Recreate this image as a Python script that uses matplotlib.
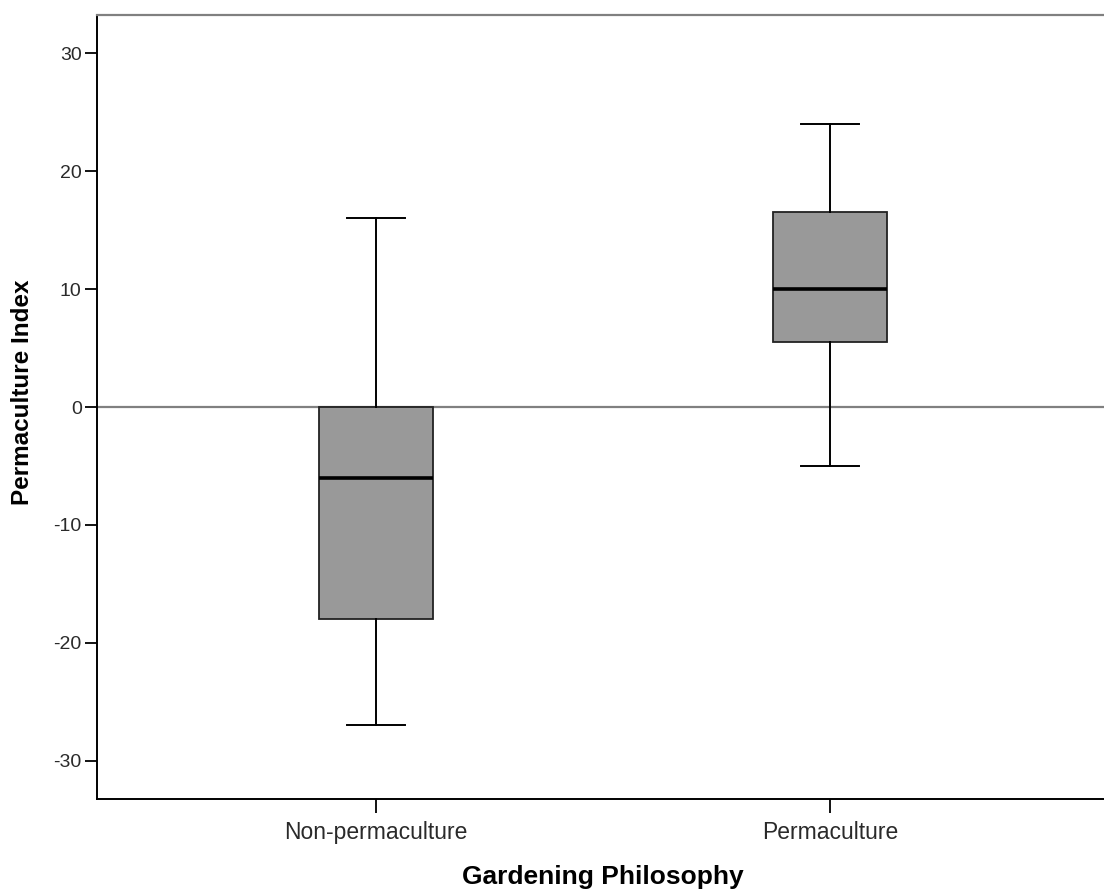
import matplotlib
matplotlib.use("Agg")
import matplotlib.pyplot as plt

categories = ["Non-permaculture", "Permaculture"]
whislo = [-27, -5]
q1 = [-18, 5.5]
med = [-6, 10]
q3 = [0, 16.5]
whishi = [16, 24]
y_ticks = [-30, -20, -10, 0, 10, 20, 30]

plt.rcParams['font.family'] = ['Liberation Sans', 'DejaVu Sans']

fig = plt.figure(figsize=(11.04, 8.91), dpi=100)
ax = fig.add_axes([97/1104, 92/891, 1012/1104, 784/891])

ax.axhline(0, color='#808080', lw=1.6, zorder=1)

stats = []
for i, c in enumerate(categories):
    stats.append(dict(label=c, whislo=whislo[i], q1=q1[i], med=med[i],
                      q3=q3[i], whishi=whishi[i], fliers=[]))

ax.bxp(stats, positions=range(len(categories)), widths=0.251,
       capwidths=0.128, patch_artist=True, showfliers=False,
       boxprops=dict(facecolor='#999999', edgecolor='#222222', linewidth=1.3),
       medianprops=dict(color='black', linewidth=2.6, solid_capstyle='butt'),
       whiskerprops=dict(color='black', linewidth=1.4),
       capprops=dict(color='black', linewidth=1.4),
       zorder=2)

ax.set_xlim(-0.6145, 1.6145)
ax.set_ylim(-33.25, 33.25)
ax.set_yticks(y_ticks)
ax.set_yticklabels([str(v) for v in y_ticks])
ax.set_xticks(range(len(categories)))
ax.set_xticklabels(categories)

ax.tick_params(axis='y', length=9, width=1.3, pad=2, labelsize=14, labelcolor='#2a2a2a')
ax.tick_params(axis='x', length=10, width=1.3, pad=6, labelsize=16.5, labelcolor='#2a2a2a')

for s in ['left', 'bottom']:
    ax.spines[s].set_color('black')
    ax.spines[s].set_linewidth(1.4)
ax.spines['top'].set_color('#808080')
ax.spines['top'].set_linewidth(1.6)
ax.spines['right'].set_visible(False)

ax.set_ylabel('Permaculture Index', fontsize=17.5, fontweight='bold')
ax.set_xlabel('Gardening Philosophy', fontsize=19, fontweight='bold')
ax.yaxis.set_label_coords(-0.062, 0.519)
ax.xaxis.set_label_coords(0.5, -0.084)

fig.savefig('out.png', dpi=100)
